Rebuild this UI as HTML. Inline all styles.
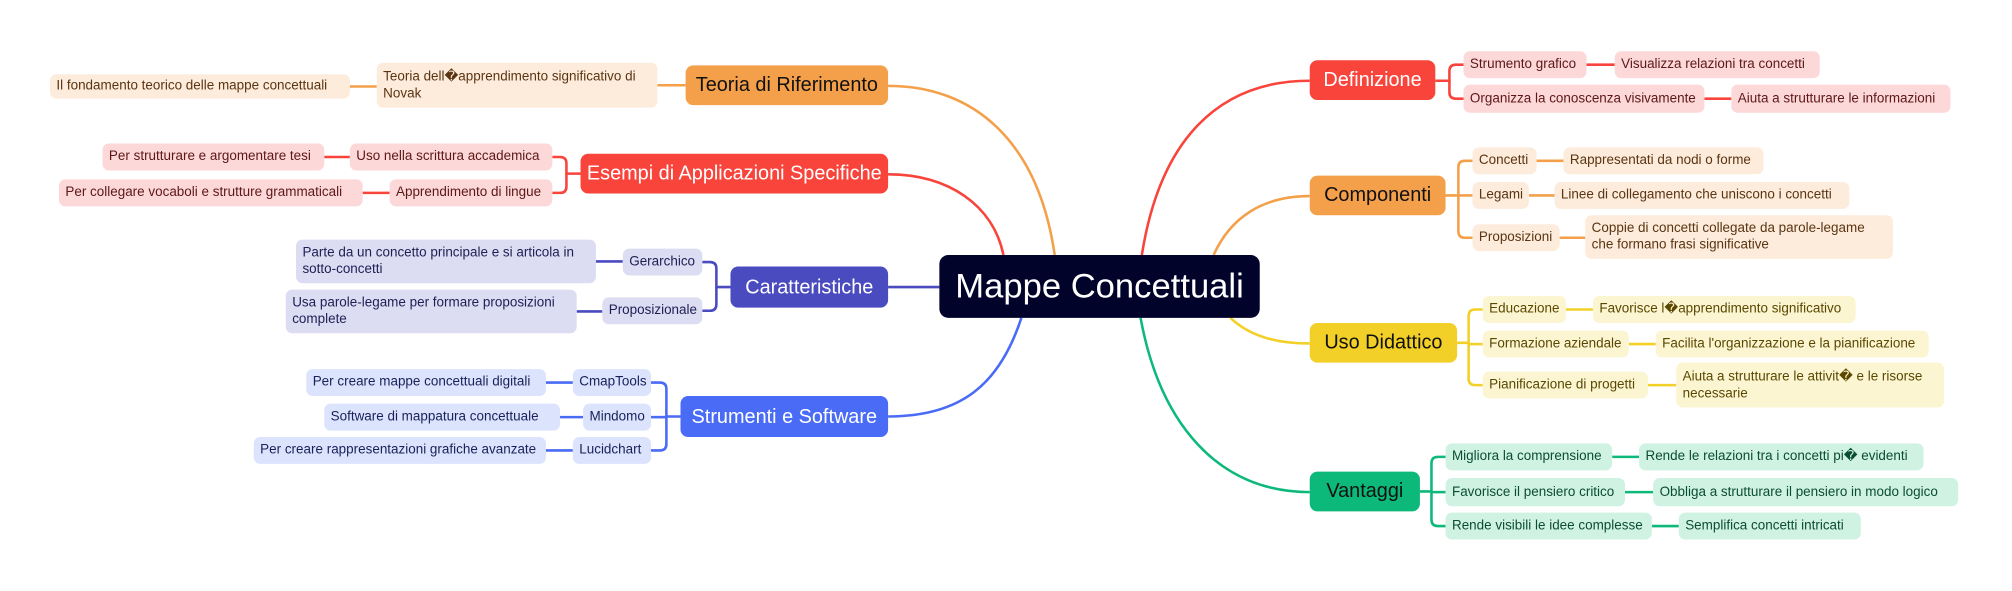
<!DOCTYPE html>
<html><head><meta charset="utf-8">
<style>
html,body{margin:0;padding:0;background:#fff;width:2012px;height:591px;overflow:hidden;}
#w{position:absolute;left:0;top:0;width:1570px;height:461px;transform:scale(1.28153);transform-origin:0 0;font-family:"Liberation Sans",sans-serif;}
.b{position:absolute;box-sizing:border-box;display:flex;align-items:center;border-radius:5px;font-size:10.5px;line-height:13px;padding:0 5px;white-space:nowrap;}
.m{justify-content:center;border-radius:6px;font-size:15.5px;padding:0;}
.r{background:#FDD8D8;color:#5c1717}
.o{background:#FDEBDB;color:#5a3512}
.p{background:#DCDCF2;color:#1f1f55}
.u{background:#DCE3FD;color:#18225a}
.y{background:#FCF5D2;color:#5a4800}
.g{background:#CFF2E3;color:#0b4d33}
svg{position:absolute;left:0;top:0}
</style></head><body><div id="w">
<svg width="1570" height="461" fill="none" stroke-width="2">
<g stroke="#F4A04A"><path d="M823 199 C810 110 760 67 693 67"/><path d="M535 66.5 H513"/><path d="M294 67.5 H273"/>
<path d="M947 199 C960 170 985 153 1022 153"/><path d="M1128 152.5 H1138 V130.5 Q1138 125.5 1143 125.5 H1149"/><path d="M1138 152.5 H1149"/><path d="M1138 152.5 V180.5 Q1138 185.5 1143 185.5 H1149"/><path d="M1199 125.5 H1220 M1193 152.5 H1213 M1217 185.5 H1237"/></g>
<g stroke="#F9443C"><path d="M783 199 C775 160 740 136 693 136"/><path d="M453 135.5 H442 V127.5 Q442 122.5 437 122.5 H431"/><path d="M442 135.5 V145.5 Q442 150.5 437 150.5 H431"/><path d="M273 122.5 H253 M304 150.5 H283"/>
<path d="M891 199 C905 110 950 63 1022 63"/><path d="M1120 63 H1131 V55.5 Q1131 50.5 1136 50.5 H1142"/><path d="M1131 63 V72 Q1131 77 1136 77 H1142"/><path d="M1238 50.5 H1260 M1330 77 H1351"/></g>
<g stroke="#4B4BC0"><path d="M733 224 H693"/><path d="M570 224 H559 V209.5 Q559 204.5 554 204.5 H548"/><path d="M559 224 V237.5 Q559 242.5 554 242.5 H548"/><path d="M486 204 H465 M470 243 H450"/></g>
<g stroke="#4A6BF5"><path d="M797 248 C780 300 750 325 693 325"/><path d="M531 325 H520 V303.5 Q520 298.5 515 298.5 H508"/><path d="M520 325.5 H508"/><path d="M520 325 V346.5 Q520 351.5 515 351.5 H508"/><path d="M447 298.5 H426 M455 325.5 H437 M447 351.5 H426"/></g>
<g stroke="#F2D027"><path d="M960 248 C975 262 995 268 1022 268"/><path d="M1137 267.5 H1146 V246.5 Q1146 241.5 1151 241.5 H1157"/><path d="M1146 268.5 H1157"/><path d="M1146 267.5 V295.5 Q1146 300.5 1151 300.5 H1157"/><path d="M1222 241.5 H1243 M1271 268.5 H1292 M1286 300.5 H1308"/></g>
<g stroke="#0DB97A"><path d="M890 248 C905 330 950 384 1022 384"/><path d="M1108 383.5 H1117 V361.5 Q1117 356.5 1122 356.5 H1128"/><path d="M1117 384 H1128"/><path d="M1117 383.5 V405.5 Q1117 410.5 1122 410.5 H1128"/><path d="M1258 356.5 H1279 M1268 384 H1290 M1289 410.5 H1310"/></g>
</svg>

<div class="b m" style="left:733px;top:199px;width:250px;height:49px;background:#02032a;color:#fff;font-size:27px;border-radius:7px">Mappe Concettuali</div>

<div class="b m" style="left:535px;top:51px;width:158px;height:31px;background:#F4A04A;color:#111">Teoria di Riferimento</div>
<div class="b o" style="left:294px;top:49px;width:219px;height:35px;white-space:normal">Teoria dell�apprendimento significativo di Novak</div>
<div class="b o" style="left:39px;top:58px;width:234px;height:19px">Il fondamento teorico delle mappe concettuali</div>

<div class="b m" style="left:453px;top:120px;width:240px;height:31px;background:#F9443C;color:#fff">Esempi di Applicazioni Specifiche</div>
<div class="b r" style="left:273px;top:112px;width:158px;height:21px">Uso nella scrittura accademica</div>
<div class="b r" style="left:80px;top:112px;width:173px;height:21px">Per strutturare e argomentare tesi</div>
<div class="b r" style="left:304px;top:140px;width:127px;height:21px">Apprendimento di lingue</div>
<div class="b r" style="left:46px;top:140px;width:237px;height:21px">Per collegare vocaboli e strutture grammaticali</div>

<div class="b m" style="left:570px;top:208px;width:123px;height:32px;background:#4B4BC0;color:#fff">Caratteristiche</div>
<div class="b p" style="left:486px;top:194px;width:62px;height:21px">Gerarchico</div>
<div class="b p" style="left:231px;top:187px;width:234px;height:34px;white-space:normal">Parte da un concetto principale e si articola in sotto-concetti</div>
<div class="b p" style="left:470px;top:232px;width:78px;height:21px">Proposizionale</div>
<div class="b p" style="left:223px;top:226px;width:227px;height:34px;white-space:normal">Usa parole-legame per formare proposizioni complete</div>

<div class="b m" style="left:531px;top:309px;width:162px;height:32px;background:#4A6BF5;color:#fff">Strumenti e Software</div>
<div class="b u" style="left:447px;top:288px;width:61px;height:21px">CmapTools</div>
<div class="b u" style="left:239px;top:288px;width:187px;height:21px">Per creare mappe concettuali digitali</div>
<div class="b u" style="left:455px;top:315px;width:53px;height:21px">Mindomo</div>
<div class="b u" style="left:253px;top:315px;width:184px;height:21px">Software di mappatura concettuale</div>
<div class="b u" style="left:447px;top:341px;width:61px;height:21px">Lucidchart</div>
<div class="b u" style="left:198px;top:341px;width:228px;height:21px">Per creare rappresentazioni grafiche avanzate</div>

<div class="b m" style="left:1022px;top:47px;width:98px;height:31px;background:#F9443C;color:#fff">Definizione</div>
<div class="b r" style="left:1142px;top:40px;width:96px;height:21px">Strumento grafico</div>
<div class="b r" style="left:1260px;top:40px;width:160px;height:21px">Visualizza relazioni tra concetti</div>
<div class="b r" style="left:1142px;top:66px;width:188px;height:22px">Organizza la conoscenza visivamente</div>
<div class="b r" style="left:1351px;top:66px;width:171px;height:22px">Aiuta a strutturare le informazioni</div>

<div class="b m" style="left:1022px;top:137px;width:106px;height:31px;background:#F4A04A;color:#111">Componenti</div>
<div class="b o" style="left:1149px;top:115px;width:50px;height:21px">Concetti</div>
<div class="b o" style="left:1220px;top:115px;width:156px;height:21px">Rappresentati da nodi o forme</div>
<div class="b o" style="left:1149px;top:142px;width:44px;height:21px">Legami</div>
<div class="b o" style="left:1213px;top:142px;width:230px;height:21px">Linee di collegamento che uniscono i concetti</div>
<div class="b o" style="left:1149px;top:175px;width:68px;height:21px">Proposizioni</div>
<div class="b o" style="left:1237px;top:168px;width:240px;height:34px;white-space:normal">Coppie di concetti collegate da parole-legame che formano frasi significative</div>

<div class="b m" style="left:1022px;top:252px;width:115px;height:31px;background:#F2D027;color:#111">Uso Didattico</div>
<div class="b y" style="left:1157px;top:231px;width:65px;height:21px">Educazione</div>
<div class="b y" style="left:1243px;top:231px;width:205px;height:21px">Favorisce l�apprendimento significativo</div>
<div class="b y" style="left:1157px;top:258px;width:114px;height:21px">Formazione aziendale</div>
<div class="b y" style="left:1292px;top:258px;width:213px;height:21px">Facilita l'organizzazione e la pianificazione</div>
<div class="b y" style="left:1157px;top:290px;width:129px;height:21px">Pianificazione di progetti</div>
<div class="b y" style="left:1308px;top:283px;width:209px;height:35px;white-space:normal">Aiuta a strutturare le attivit� e le risorse necessarie</div>

<div class="b m" style="left:1022px;top:368px;width:86px;height:31px;background:#0DB97A;color:#111">Vantaggi</div>
<div class="b g" style="left:1128px;top:346px;width:130px;height:21px">Migliora la comprensione</div>
<div class="b g" style="left:1279px;top:346px;width:222px;height:21px">Rende le relazioni tra i concetti pi� evidenti</div>
<div class="b g" style="left:1128px;top:373px;width:140px;height:22px">Favorisce il pensiero critico</div>
<div class="b g" style="left:1290px;top:373px;width:238px;height:22px">Obbliga a strutturare il pensiero in modo logico</div>
<div class="b g" style="left:1128px;top:400px;width:161px;height:21px">Rende visibili le idee complesse</div>
<div class="b g" style="left:1310px;top:400px;width:142px;height:21px">Semplifica concetti intricati</div>
</div></body></html>
